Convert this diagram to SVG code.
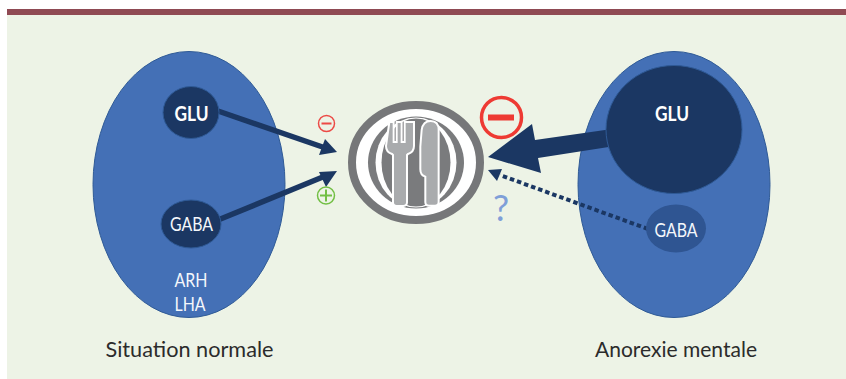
<svg xmlns="http://www.w3.org/2000/svg" width="846" height="379" viewBox="0 0 846 379">
<style>
.t{font-family:Lato,"Noto Sans","Liberation Sans",sans-serif;text-anchor:middle}
.w{fill:#f4f7fb;font-size:20px}
.c{fill:#2b2b2b;font-size:21.500px}
.b{fill:#fff;font-size:21.500px;font-weight:700}
.big{fill:#4470b6;stroke:#2f5a96;stroke-width:1}
.dk{fill:#1b3763;stroke:#2f5a96;stroke-width:1}
.ln{stroke:#1b3763;fill:none}
.hd{fill:#1b3763}
.gr{fill:#a9abad;stroke:#fff;stroke-width:6}
</style>
<rect width="846" height="379" fill="#fff"/>
<rect x="7" y="15" width="839" height="364" fill="#edf3e6"/>
<rect x="7" y="9" width="839" height="6" fill="#8f4a53"/>
<g id="node-normal">
<ellipse class="big" cx="189" cy="184.5" rx="96" ry="133"/>
<text class="t w" x="191" y="287" textLength="33" lengthAdjust="spacingAndGlyphs">ARH</text>
<text class="t w" x="190" y="311" textLength="31" lengthAdjust="spacingAndGlyphs">LHA</text>
</g>
<g id="node-anorexie">
<ellipse class="big" cx="674" cy="184.5" rx="96" ry="133"/>
</g>
<g id="connectors">
<line class="ln" x1="218" y1="111" x2="324" y2="147.500" stroke-width="5.500"/>
<polygon class="hd" points="337,152 319,155 325,139"/>
<line class="ln" x1="218" y1="220" x2="324" y2="176.500" stroke-width="5.500"/>
<polygon class="hd" points="337,171 326,187 319,172"/>
<polygon class="hd" points="488,157 532,124 535,140 612,129 615,146 538,158 541,173"/>
<line class="ln" x1="648" y1="229" x2="500" y2="175" stroke-width="4" stroke-dasharray="4.500 3"/>
<polygon class="hd" points="488,170 502,169 497,181"/>
</g>
<g id="node-glu-normal">
<ellipse class="dk" cx="191" cy="112.500" rx="28" ry="26"/>
<text class="t b" x="191.500" y="120.500" textLength="34" lengthAdjust="spacingAndGlyphs">GLU</text>
</g>
<g id="node-gaba-normal">
<ellipse class="dk" cx="191" cy="224" rx="30" ry="24"/>
<text class="t w" x="191.500" y="231" textLength="43" lengthAdjust="spacingAndGlyphs">GABA</text>
</g>
<g id="node-glu-anorexie">
<ellipse class="dk" cx="674" cy="129.500" rx="68" ry="64"/>
<text class="t b" x="672" y="120.500" textLength="34" lengthAdjust="spacingAndGlyphs">GLU</text>
</g>
<g id="node-gaba-anorexie">
<ellipse cx="676" cy="228.500" rx="30" ry="24" fill="#2f5592"/>
<text class="t w" x="676" y="237" textLength="43" lengthAdjust="spacingAndGlyphs">GABA</text>
</g>
<g id="node-plate">
<ellipse cx="416" cy="162.500" rx="64" ry="57.500" fill="#fff" stroke="#767779" stroke-width="8"/>
<ellipse cx="416" cy="162.500" rx="48" ry="46" fill="#7a7b7d"/>
<ellipse cx="416" cy="162.500" rx="40.500" ry="45" fill="#fff"/>
<ellipse cx="416" cy="162.500" rx="34.500" ry="44" fill="#7a7b7d"/>
<g transform="translate(300 80) scale(.3333)">
<path class="gr" d="M268 126h13v60h9v-60h15v60h9v-60h15l13 0v72q0 18-18 24l-3 3v142q0 11-11 11h-20q-11 0-11-11V225l-3-3q-18-6-18-24z"/>
<path class="gr" d="M365 150q4-27 27-27 24 0 24 27v216q0 11-11 11h-18q-11 0-11-11V290q-15-4-15-22V200z"/>
</g>
</g>
<g id="sign-minus-small">
<circle cx="326.500" cy="123.500" r="8" fill="none" stroke="#ec4a46" stroke-width="1.500"/>
<rect x="321.500" y="122.500" width="10" height="2" fill="#ec4a46"/>
</g>
<g id="sign-plus">
<circle cx="326" cy="195.500" r="8.500" fill="none" stroke="#72bf44" stroke-width="1.500"/>
<path d="M320 195.500h12M326 189.500v12" stroke="#72bf44" stroke-width="2" fill="none"/>
</g>
<g id="sign-minus-large">
<circle cx="501.500" cy="117.500" r="20" fill="none" stroke="#ee3a33" stroke-width="3.500"/>
<rect x="488" y="114.500" width="26" height="6" fill="#ee3a33"/>
</g>
<text class="t" x="501" y="221" font-size="36" fill="#7f9fd8">?</text>
<text class="t c" x="189.500" y="357" textLength="168" lengthAdjust="spacingAndGlyphs">Situation normale</text>
<text class="t c" x="676" y="357" textLength="162" lengthAdjust="spacingAndGlyphs">Anorexie mentale</text>
</svg>
